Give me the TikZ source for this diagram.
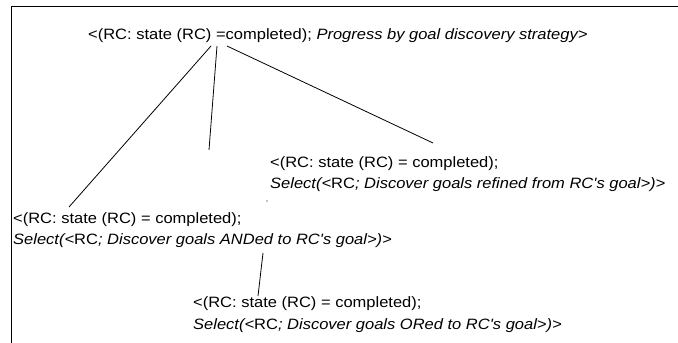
\documentclass[tikz,border=0pt]{standalone}
\usepackage{fontspec}
\setmainfont{Liberation Sans}
% labels are set slightly wide
\newcommand{\wide}[1]{\scalebox{1.1}[1]{#1}}
\newcommand{\apos}{\textquotesingle}
\begin{document}
\begin{tikzpicture}[x=1pt,y=-1pt,
  lbl/.style={anchor=base west, inner sep=0pt, font=\fontsize{15}{18}\selectfont},
  link/.style={line width=0.8pt}]
\useasboundingbox (0,0) rectangle (678,343);
% open frame: left and top edges only
\draw[line width=1.4pt] (11.5,343) |- (678,6.5);

% goal labels
\node[lbl] (root) at (88,39) {\wide{<(RC: state (RC) =completed); \textit{Progress by goal discovery strategy>}}};
\node[lbl] (ref1) at (270,167) {\wide{<(RC: state (RC) = completed);}};
\node[lbl] (ref2) at (270,188) {\wide{\textit{Select(<}RC\textit{; Discover goals refined from RC\apos s goal>)>}}};
\node[lbl] (and1) at (13,223) {\wide{<(RC: state (RC) = completed);}};
\node[lbl] (and2) at (13,244.5) {\wide{\textit{Select(<}RC\textit{; Discover goals ANDed to RC\apos s goal>)>}}};
\node[lbl] (or1) at (193,307) {\wide{<(RC: state (RC) = completed);}};
\node[lbl] (or2) at (193,329) {\wide{\textit{Select(<}RC\textit{; Discover goals ORed to RC\apos s goal>)>}}};

% connector end points
\coordinate (rA) at (211,46);
\coordinate (rB) at (217,46);
\coordinate (rC) at (227,46);
\coordinate (andTop) at (69,207);
\coordinate (midEnd) at (209,150);
\coordinate (refTop) at (433,143);
\coordinate (andBot) at (263,253);
\coordinate (orTop) at (258,296);

\draw[link] (rA) -- (andTop);
\draw[link] (rB) -- (midEnd);
\draw[link] (rC) -- (refTop);
\draw[link] (andBot) -- (orTop);
\fill (267,201) circle (0.7);
\end{tikzpicture}
\end{document}
